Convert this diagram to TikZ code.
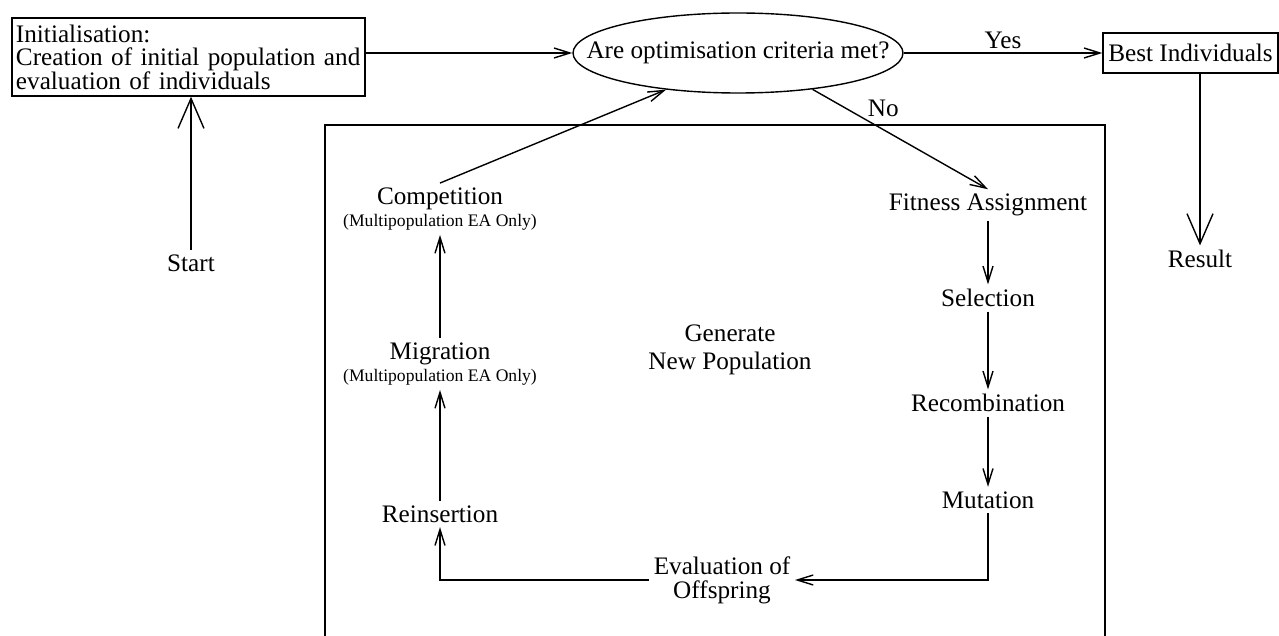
\documentclass[tikz,border=0pt]{standalone}
\usepackage{fontspec}
\setmainfont{Liberation Serif}
\usetikzlibrary{shapes.geometric,arrows.meta}
\newcommand{\eaonly}{{\fontsize{8.8}{10}\selectfont (Multipopulation EA Only)}}

\begin{document}
\begin{tikzpicture}[x=0.5pt, y=-0.5pt, line width=0.7pt,
  every node/.style={font=\fontsize{12.6}{15}\selectfont, inner sep=2pt},
  ar/.style={-{Straight Barb[length=8pt,width=5pt]}},
  bigar/.style={-{Straight Barb[length=15pt,width=13pt]}}]
 \useasboundingbox (0,0) rectangle (1279,636);

 \node[draw,align=left,text width=172.5pt,minimum height=39pt](0) at (188.5,57){Initialisation:\\[-3.5pt]Creation of initial population and\\[-3pt]evaluation of individuals};
 \node[draw,ellipse,minimum width=165pt,minimum height=40pt,inner xsep=-25pt](1) at (738,53){Are optimisation criteria met?};
 \node(2) at (191,263){Start};
 \node[draw,minimum width=87.5pt,minimum height=20pt,inner sep=0pt](3) at (1190.5,53){Best Individuals};
 \node(4) at (1200,259){Result};

 \node(5) at (988,205){Fitness Assignment};
 \node(6) at (988,298){Selection};
 \node(7) at (988,403){Recombination};
 \node(8) at (988,500){Mutation};
 \node[align=center](9) at (722,580){Evaluation of\\[-3pt]Offspring};
 \node(10) at (440,514){Reinsertion};
 \node[align=center](11) at (440,364){Migration\\[-4pt]\eaonly};
 \node[align=center](12) at (440,209){Competition\\[-4pt]\eaonly};
 \node[align=center](13) at (730,350){Generate\\[-1pt]New Population};

 % generate new population
 \draw (325,636) -- (325,125) -- (1105,125) -- (1105,636);

 \draw [bigar] (2) -- (2 |- 0.south);
 \draw [ar] (0.east |- 1.west) -- (1.west);
 \draw [ar] (1.east) -- node[above]{Yes} (1.east -| 3.west);
 \draw [bigar] (4 |- 3.south) -- (4);
 \draw [ar] (1.334) -- node[pos=0.3,anchor=south west,inner sep=1pt]{No} (5.north);

 \draw [ar] (5) -- (6);
 \draw [ar] (6) -- (7);
 \draw [ar] (7) -- (8);
 \draw [ar] (8) |- (9);
 \draw [ar] (9) -| (10);
 \draw [ar] (10) -- (11);
 \draw [ar] (11) -- (12);
 \draw [ar] (12.north) -- (1.207);
\end{tikzpicture}
\end{document}
